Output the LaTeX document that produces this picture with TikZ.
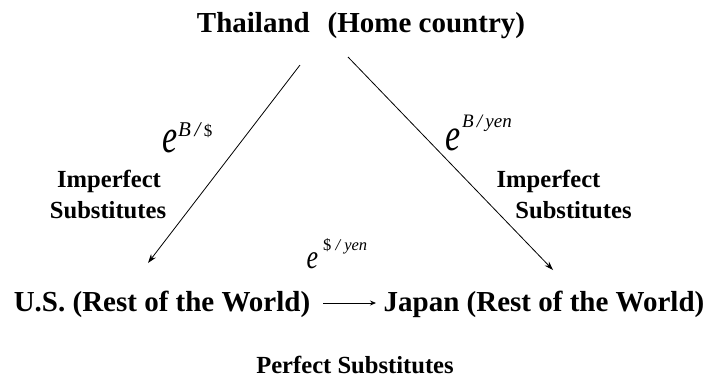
\documentclass[tikz,border=0pt]{standalone}
\usepackage{fontspec}
\setmainfont{Liberation Serif}
\usetikzlibrary{arrows.meta}
\newcommand{\tallE}[2]{\scalebox{1}[#2]{\fontsize{#1}{#1}\selectfont\itshape e}}
\tikzset{
  big/.style={font=\bfseries\fontsize{29}{31}\selectfont, inner sep=0pt, anchor=base},
  mid/.style={font=\bfseries\fontsize{24.6}{26}\selectfont, inner sep=0pt, anchor=base},
  ee/.style={inner sep=0pt, anchor=base},
  sup/.style={font=\itshape\fontsize{21}{22}\selectfont, inner sep=0pt, anchor=base west},
  conn/.style={line width=0.8pt, -{Stealth[length=9pt,width=6pt]}},
}
\begin{document}
\begin{tikzpicture}[x=1pt,y=-1pt]
\useasboundingbox (0,0) rectangle (707,381);
% main labels
\node[big] (thai) at (361,32) {Thailand\hspace{18pt}(Home country)};
\node[big] (us) at (162,311) {U.S. (Rest of the World)};
\node[big] (japan) at (544,311) {Japan (Rest of the World)};
% side labels
\node[mid] (impl) at (109,187) {Imperfect};
\node[mid] (subl) at (108,218) {Substitutes};
\node[mid] (impr) at (548.5,187) {Imperfect};
\node[mid] (subr) at (573.5,218) {Substitutes};
\node[mid] (perf) at (355,373) {Perfect Substitutes};
% exchange rates
\node[ee] (e1) at (170,152) {\tallE{34}{1.4}};
\node[sup] (s1) at (178,136) {B\,/\,{\upshape\fontsize{17}{18}\selectfont\$}};
\node[ee] (e2) at (453.5,150) {\tallE{34}{1.35}};
\node[sup, font=\itshape\fontsize{19}{20}\selectfont] (s2) at (462,127) {B\,/\,yen};
\node[ee] (e3) at (312.5,268) {\tallE{26}{1.3}};
\node[sup, font=\itshape\fontsize{16.5}{18}\selectfont] (s3) at (323,250) {{\upshape\$} / yen};
% connectors
\coordinate (a1) at (300,65);
\coordinate (b1) at (148,263);
\coordinate (a2) at (348,57);
\coordinate (b2) at (553,270);
\coordinate (a3) at (323,303);
\coordinate (b3) at (376,303);
\draw[conn] (a1) -- (b1);
\draw[conn] (a2) -- (b2);
\draw[line width=0.8pt, -{Stealth[length=6pt,width=5pt]}] (a3) -- (b3);
\end{tikzpicture}
\end{document}
